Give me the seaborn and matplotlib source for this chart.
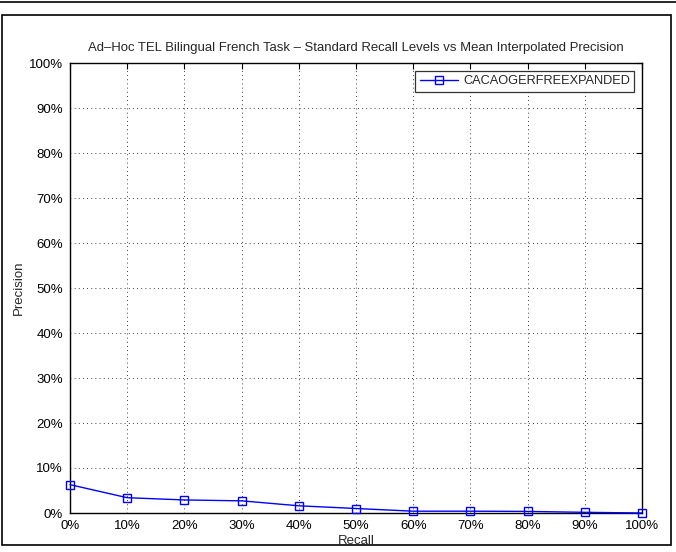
import matplotlib
matplotlib.use("Agg")
import matplotlib.pyplot as plt
import seaborn as sns
import pandas as pd
from matplotlib.patches import Rectangle
from matplotlib.lines import Line2D

recall = [0, 10, 20, 30, 40, 50, 60, 70, 80, 90, 100]
precision = [6.3, 3.4, 2.9, 2.7, 1.6, 1.0, 0.4, 0.4, 0.35, 0.15, 0.0]
series_name = "CACAOGERFREEXPANDED"
tick_labels = [f"{v}%" for v in range(0, 101, 10)]

sns.set_style("white")
plt.rcParams['font.family'] = ['Liberation Sans', 'DejaVu Sans']

df = pd.DataFrame({"Recall": recall, "Precision": precision, "run": series_name})

fig = plt.figure(figsize=(6.76, 5.52), dpi=100)
ax = fig.add_axes([70/676, 1-513/552, (642-70)/676, (513-63)/552])

sns.lineplot(data=df, x="Recall", y="Precision", hue="run", palette=["#0000ff"],
             marker="s", markersize=6, markerfacecolor="none", markeredgecolor="#0000ff",
             markeredgewidth=1.0, linewidth=1.0, ax=ax, clip_on=False, zorder=5)

ax.set_xlim(0, 100)
ax.set_ylim(0, 100)
ax.set_xticks(range(0, 101, 10))
ax.set_yticks(range(0, 101, 10))
ax.set_xticklabels(tick_labels, fontsize=9.5)
ax.set_yticklabels(tick_labels, fontsize=9.5)
ax.tick_params(axis="x", direction="in", top=True, length=4, width=0.8, pad=5, colors="black")
ax.tick_params(axis="y", direction="in", right=True, length=4, width=0.8, pad=5, colors="black")
ax.grid(True, linestyle=(0, (1, 4)), color="black", linewidth=0.6)
for s in ax.spines.values():
    s.set_color("black")
    s.set_linewidth(1.0)
ax.set_xlabel("Recall", fontsize=9.5, labelpad=2)
ax.set_ylabel("Precision", fontsize=9.5, labelpad=3)
ax.set_title("Ad\u2013Hoc TEL Bilingual French Task \u2013 Standard Recall Levels vs Mean Interpolated Precision",
             fontsize=9.45, pad=9)

handles = [Line2D([], [], color="#0000ff", marker="s", markerfacecolor="none",
                  markeredgecolor="#0000ff", linewidth=1.0, markersize=6)]
leg = ax.legend(handles, [series_name], loc="upper right", fontsize=9.2, frameon=True,
                fancybox=False, edgecolor="black", borderaxespad=0.6, handlelength=3.0,
                borderpad=0.35, handletextpad=0.4)
leg.get_frame().set_linewidth(0.9)

# figure frame
fig.add_artist(Line2D([0, 1], [1-1.5/552, 1-1.5/552], transform=fig.transFigure, color="black", linewidth=1.2))
fig.add_artist(Rectangle((1.5/676, 1-545/552), (671-1.5)/676, (545-15)/552, transform=fig.transFigure,
                         fill=False, edgecolor="black", linewidth=1.2))

fig.savefig("out.png", dpi=100, facecolor="white")
